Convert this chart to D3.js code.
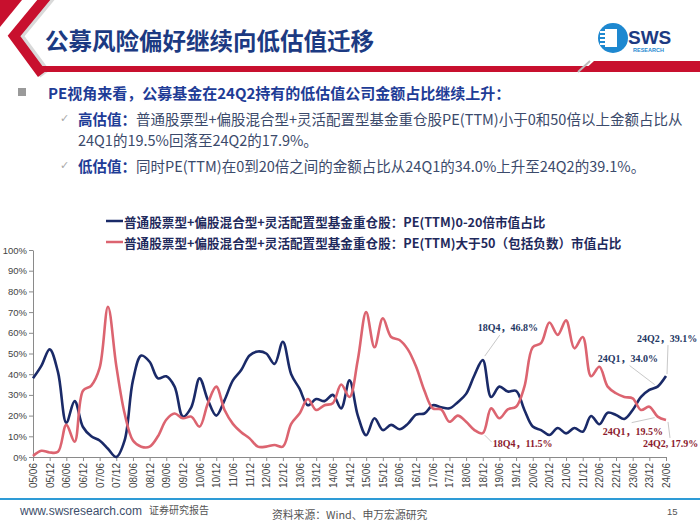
<!DOCTYPE html>
<html><head><meta charset="utf-8">
<script src="https://cdn.jsdelivr.net/npm/d3@7"></script>
<style>body{margin:0;background:#fff}svg{display:block}</style>
</head><body><svg id="c" width="700" height="525"></svg>
<script>
const quarters = ["05Q2","05Q3","05Q4","06Q1","06Q2","06Q3","06Q4","07Q1","07Q2","07Q3","07Q4","08Q1","08Q2","08Q3","08Q4","09Q1","09Q2","09Q3","09Q4","10Q1","10Q2","10Q3","10Q4","11Q1","11Q2","11Q3","11Q4","12Q1","12Q2","12Q3","12Q4","13Q1","13Q2","13Q3","13Q4","14Q1","14Q2","14Q3","14Q4","15Q1","15Q2","15Q3","15Q4","16Q1","16Q2","16Q3","16Q4","17Q1","17Q2","17Q3","17Q4","18Q1","18Q2","18Q3","18Q4","19Q1","19Q2","19Q3","19Q4","20Q1","20Q2","20Q3","20Q4","21Q1","21Q2","21Q3","21Q4","22Q1","22Q2","22Q3","22Q4","23Q1","23Q2","23Q3","23Q4","24Q1","24Q2"];
const tickLabels = ["05/06","05/12","06/06","06/12","07/06","07/12","08/06","08/12","09/06","09/12","10/06","10/12","11/06","11/12","12/06","12/12","13/06","13/12","14/06","14/12","15/06","15/12","16/06","16/12","17/06","17/12","18/06","18/12","19/06","19/12","20/06","20/12","21/06","21/12","22/06","22/12","23/06","23/12","24/06"];
const pe0to20 = [38,44,52,41,16.6,27,14.5,10,8,4,0,8,37,49,46,38,39,34,19.5,24,38,27.5,20,27.5,37,42,49,51,50,45,55.7,40,33,25,28,27,30,23.5,37,20,10.5,18.7,13,15.5,13.4,16,20.5,21,25,24,23.5,26.5,30.5,39.5,46.8,29,34,31.6,32,22.7,14.7,13,10.6,14,11.4,14,12.2,19.8,15.8,21.4,20.3,18.4,22.7,29,32.4,34.0,39.1];
const peAbove50 = [0.5,3,2.2,2.5,15.5,7.4,32,34.5,43,72.6,44,21,8,5,5,10,18,21,18.7,19.5,14.7,26,34,22.7,16,12,9,5,5,5.8,5,16,21,28,22.7,25,26,35,29,47,70,53,67,58,56.5,52,43.6,32,23.5,23,17,20,17,13,11.5,23.5,18.7,23,24.3,34,53,55,65,59,66,52.5,58,39,43.6,34,30.8,29,28.3,22.7,24.3,19.5,17.9];
const yTicks = [0,10,20,30,40,50,60,70,80,90,100];
const seriesNames = ["普通股票型+偏股混合型+灵活配置型基金重仓股：PE(TTM)0-20倍市值占比","普通股票型+偏股混合型+灵活配置型基金重仓股：PE(TTM)大于50（包括负数）市值占比"];
const annotations = [
  {s:0,q:"18Q4",text:"18Q4，46.8%",dx:-5,dy:-33,l:[2,-4,17,-25]},
  {s:1,q:"18Q4",text:"18Q4，11.5%",dx:10,dy:10,l:[2,2,9,9]},
  {s:0,q:"24Q1",text:"24Q1，34.0%",dx:-60,dy:-28,l:[-3,-2,-28,-21]},
  {s:0,q:"24Q2",text:"24Q2，39.1%",dx:-29,dy:-38,l:[1,-2,2,-31]},
  {s:1,q:"24Q1",text:"24Q1，19.5%",dx:-55,dy:15,l:[-3,1,-26,6]},
  {s:1,q:"24Q2",text:"24Q2, 17.9%",dx:-23,dy:24,l:[2,2,4,18]}
];

const svg = d3.select("#c");
const CJK = "'Noto Sans CJK SC','Noto Sans',sans-serif";
const LAT = "'Liberation Sans',Arial,sans-serif";

// header decoration
svg.append("path").attr("d","M0,0 L22,0 L0,27 Z").attr("fill","#C8102E");
svg.append("polyline").attr("points","50,-4 17,36 45,74").attr("fill","none").attr("stroke","#d9d9d9").attr("stroke-width",12);
svg.append("polyline").attr("points","47,-4 14,36 42,74").attr("fill","none").attr("stroke","#C8102E").attr("stroke-width",10);
svg.append("rect").attr("x",36).attr("y",66).attr("width",664).attr("height",6).attr("fill","#C8102E");
svg.append("path").attr("d","M582,72 L594,61 L700,61 L700,72 Z").attr("fill","#C8102E");
svg.append("path").attr("d","M578,72 L590,61").attr("stroke","#bbb").attr("stroke-width",2);

svg.append("text").attr("x",45).attr("y",40).attr("dominant-baseline","central")
  .attr("font-family",CJK).attr("font-weight","bold").attr("font-size",23.5).attr("fill","#1C3A82").text("公募风险偏好继续向低估值迁移");

// logo
const lg = svg.append("g");
lg.append("circle").attr("cx",613).attr("cy",38).attr("r",15).attr("fill","#1E88D0");
lg.append("rect").attr("x",605).attr("y",29).attr("width",12).attr("height",18).attr("fill","#fff");
[31,35,39,43].forEach(y=>lg.append("rect").attr("x",600).attr("y",y).attr("width",9).attr("height",2).attr("fill","#fff"));
lg.append("text").attr("x",628).attr("y",44).attr("font-family",LAT).attr("font-weight","bold").attr("font-size",19).attr("fill","#1C3A82").text("SWS");
lg.append("text").attr("x",633).attr("y",52).attr("font-family",LAT).attr("font-weight","bold").attr("font-size",5.5).attr("fill","#1E88D0").text("RESEARCH");

// bullets
svg.append("rect").attr("x",18).attr("y",88).attr("width",8).attr("height",8).attr("fill","#9a9a9a");
svg.append("text").attr("x",48).attr("y",92).attr("dominant-baseline","central").attr("font-family",CJK).attr("font-weight","bold").attr("font-size",15).attr("fill","#1E3C96")
  .text("PE视角来看，公募基金在24Q2持有的低估值公司金额占比继续上升：");
const bl = [
  {y:118,b:"高估值：",t:"普通股票型+偏股混合型+灵活配置型基金重仓股PE(TTM)小于0和50倍以上金额占比从",ck:true},
  {y:139,b:"",t:"24Q1的19.5%回落至24Q2的17.9%。",ck:false},
  {y:165,b:"低估值：",t:"同时PE(TTM)在0到20倍之间的金额占比从24Q1的34.0%上升至24Q2的39.1%。",ck:true}
];
bl.forEach(d=>{
  if(d.ck) svg.append("text").attr("x",60).attr("y",d.y).attr("dominant-baseline","central").attr("font-family","'DejaVu Sans',sans-serif").attr("font-size",11).attr("fill","#aaa").text("✓");
  const t = svg.append("text").attr("x",78).attr("y",d.y).attr("dominant-baseline","central").attr("font-family",CJK).attr("font-size",14.5);
  if(d.b) t.append("tspan").attr("font-weight","bold").attr("fill","#1E3C96").text(d.b);
  t.append("tspan").attr("fill","#3B4A6B").text(d.t);
});

// legend
const colors = ["#1A2A68","#DC6470"];
seriesNames.forEach((n,i)=>{
  const y = 221 + i*21;
  svg.append("line").attr("x1",106).attr("x2",123).attr("y1",y).attr("y2",y).attr("stroke",colors[i]).attr("stroke-width",2.5);
  svg.append("text").attr("x",124).attr("y",y).attr("dominant-baseline","central").attr("font-family",CJK).attr("font-weight","bold").attr("font-size",12.6).attr("fill","#1F2A5C").text(n);
});

// chart
const x = d3.scalePoint().domain(quarters).range([33,666]);
const y = d3.scaleLinear().domain([0,100]).range([457,250]);

const ya = svg.append("g").attr("transform","translate(33,0)")
  .call(d3.axisLeft(y).tickValues(yTicks).tickFormat(d=>d+"%").tickSize(4).tickSizeOuter(0));
ya.select(".domain").attr("stroke","#8a8a8a");
ya.selectAll(".tick line").attr("stroke","#8a8a8a");
ya.selectAll("text").attr("font-family",LAT).attr("font-size",9.5).attr("fill","#444").attr("x",-6);

const xa = svg.append("g").attr("transform","translate(0,457)")
  .call(d3.axisBottom(x).tickValues(quarters.filter((q,i)=>i%2===0)).tickFormat((q,i)=>tickLabels[i]).tickSize(4).tickSizeOuter(0));
xa.select(".domain").attr("stroke","#8a8a8a");
xa.selectAll(".tick line").attr("stroke","#8a8a8a");
xa.selectAll("text").attr("font-family",LAT).attr("font-size",10).attr("fill","#444")
  .attr("transform","rotate(-90)").attr("text-anchor","end").attr("x",-6).attr("y",0).attr("dy","0.35em");

const line = d3.line().x((d,i)=>x(quarters[i])).y(d=>y(d)).curve(d3.curveCatmullRom.alpha(0.5));
[pe0to20,peAbove50].forEach((s,i)=>{
  svg.append("path").datum(s).attr("d",line).attr("fill","none").attr("stroke",colors[i]).attr("stroke-width",2.6);
});

// annotations
const annCol = ["#1F3864","#8B1A2E"];
const series = [pe0to20,peAbove50];
annotations.forEach(a=>{
  const idx = quarters.indexOf(a.q);
  const px = x(a.q), py = y(series[a.s][idx]);
  svg.append("line").attr("x1",px+a.l[0]).attr("y1",py+a.l[1]).attr("x2",px+a.l[2]).attr("y2",py+a.l[3]).attr("stroke","#c8c8c8").attr("stroke-width",1);
  svg.append("text").attr("x",px+a.dx).attr("y",py+a.dy).attr("dominant-baseline","central")
    .attr("font-family","'Liberation Serif','Noto Sans CJK SC',serif").attr("font-weight","bold").attr("font-size",10).attr("fill",annCol[a.s]).text(a.text);
});

// footer
svg.append("line").attr("x1",0).attr("x2",700).attr("y1",499).attr("y2",499).attr("stroke","#2E9BD6").attr("stroke-width",2);
svg.append("text").attr("x",20).attr("y",511).attr("dominant-baseline","central").attr("font-family",LAT).attr("font-size",12).attr("fill","#3D4E6B").text("www.swsresearch.com");
svg.append("text").attr("x",149).attr("y",509).attr("dominant-baseline","central").attr("font-family",CJK).attr("font-size",10).attr("fill","#555").text("证券研究报告");
svg.append("text").attr("x",272).attr("y",514).attr("dominant-baseline","central").attr("font-family",CJK).attr("font-size",10.8).attr("fill","#555").text("资料来源：Wind、申万宏源研究");
svg.append("text").attr("x",667).attr("y",511).attr("dominant-baseline","central").attr("font-family",LAT).attr("font-size",9.5).attr("fill","#555").text("15");
</script></body></html>
